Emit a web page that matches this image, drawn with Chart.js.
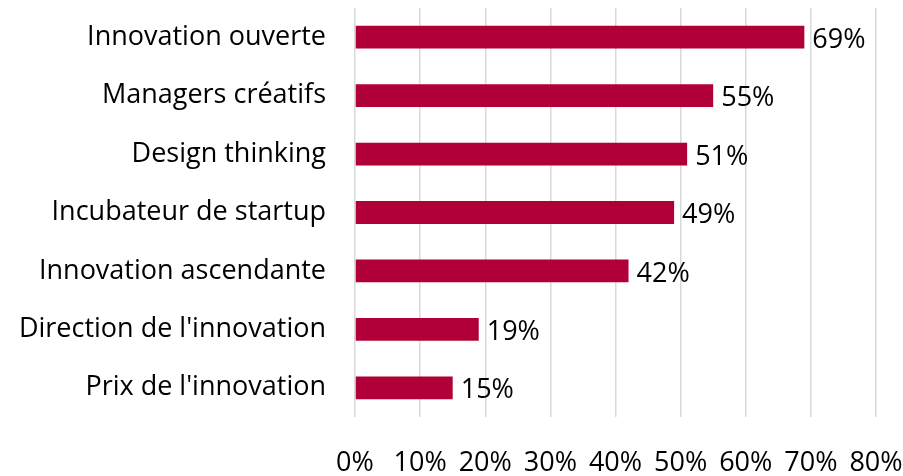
<!DOCTYPE html>
<html lang="fr">
<head>
    <meta charset="UTF-8">
    <title>Innovation</title>
    <script src="https://cdn.jsdelivr.net/npm/chart.js"></script>
</head>
<style>
    html, body { margin: 0; padding: 0; background: #fff; }
    .chart-container { width: 903px; height: 476px; position: relative; }
</style>
<body>
    <div class="chart-container">
        <canvas id="barChart"></canvas>
    </div>

    <script>
        // données
        const categories = [
            'Innovation ouverte',
            'Managers créatifs',
            'Design thinking',
            'Incubateur de startup',
            'Innovation ascendante',
            "Direction de l'innovation",
            "Prix de l'innovation"
        ];
        const values = [69, 55, 51, 49, 42, 19, 15];
        const xTicks = [0, 10, 20, 30, 40, 50, 60, 70, 80];

        const FONT = "'Open Sans', 'Liberation Sans', sans-serif";
        const SIZE = 27;

        // étiquettes au bout des barres
        const valueLabels = {
            id: 'valueLabels',
            afterDatasetsDraw(chart) {
                const ctx = chart.ctx;
                const meta = chart.getDatasetMeta(0);
                ctx.save();
                ctx.font = SIZE + 'px ' + FONT;
                ctx.fillStyle = '#000';
                ctx.textAlign = 'left';
                ctx.textBaseline = 'middle';
                meta.data.forEach((bar, i) => {
                    ctx.fillText(values[i] + '%', bar.x + 8, bar.y + 3);
                });
                ctx.restore();
            }
        };

        const ctx = document.getElementById('barChart').getContext('2d');
        new Chart(ctx, {
            type: 'bar',
            data: {
                labels: categories,
                datasets: [{
                    data: values,
                    backgroundColor: '#b00037',
                    barPercentage: 0.75,
                    categoryPercentage: 0.52
                }]
            },
            options: {
                indexAxis: 'y',
                responsive: true,
                maintainAspectRatio: false,
                animation: false,
                layout: { padding: { top: 8, right: 27, left: 0, bottom: 0 } },
                plugins: {
                    legend: { display: false },
                    tooltip: { enabled: false }
                },
                scales: {
                    x: {
                        min: 0,
                        max: 80,
                        afterBuildTicks(scale) {
                            scale.ticks = xTicks.map(v => ({ value: v }));
                        },
                        afterFit(scale) {
                            scale.height = 59;
                            scale.paddingLeft = 0;
                            scale.paddingRight = 0;
                        },
                        grid: { color: '#d9d9d9', lineWidth: 1.5, drawTicks: false },
                        border: { display: false },
                        ticks: {
                            padding: 30,
                            color: '#000',
                            font: { family: FONT, size: SIZE },
                            callback: v => v + '%'
                        }
                    },
                    y: {
                        afterFit(scale) {
                            scale.width = 355;
                            scale.paddingTop = 0;
                            scale.paddingBottom = 0;
                        },
                        grid: { display: false },
                        border: { display: false },
                        ticks: {
                            padding: 21,
                            color: '#000',
                            font: { family: FONT, size: SIZE }
                        }
                    }
                }
            },
            plugins: [valueLabels]
        });
    </script>
</body>
</html>
